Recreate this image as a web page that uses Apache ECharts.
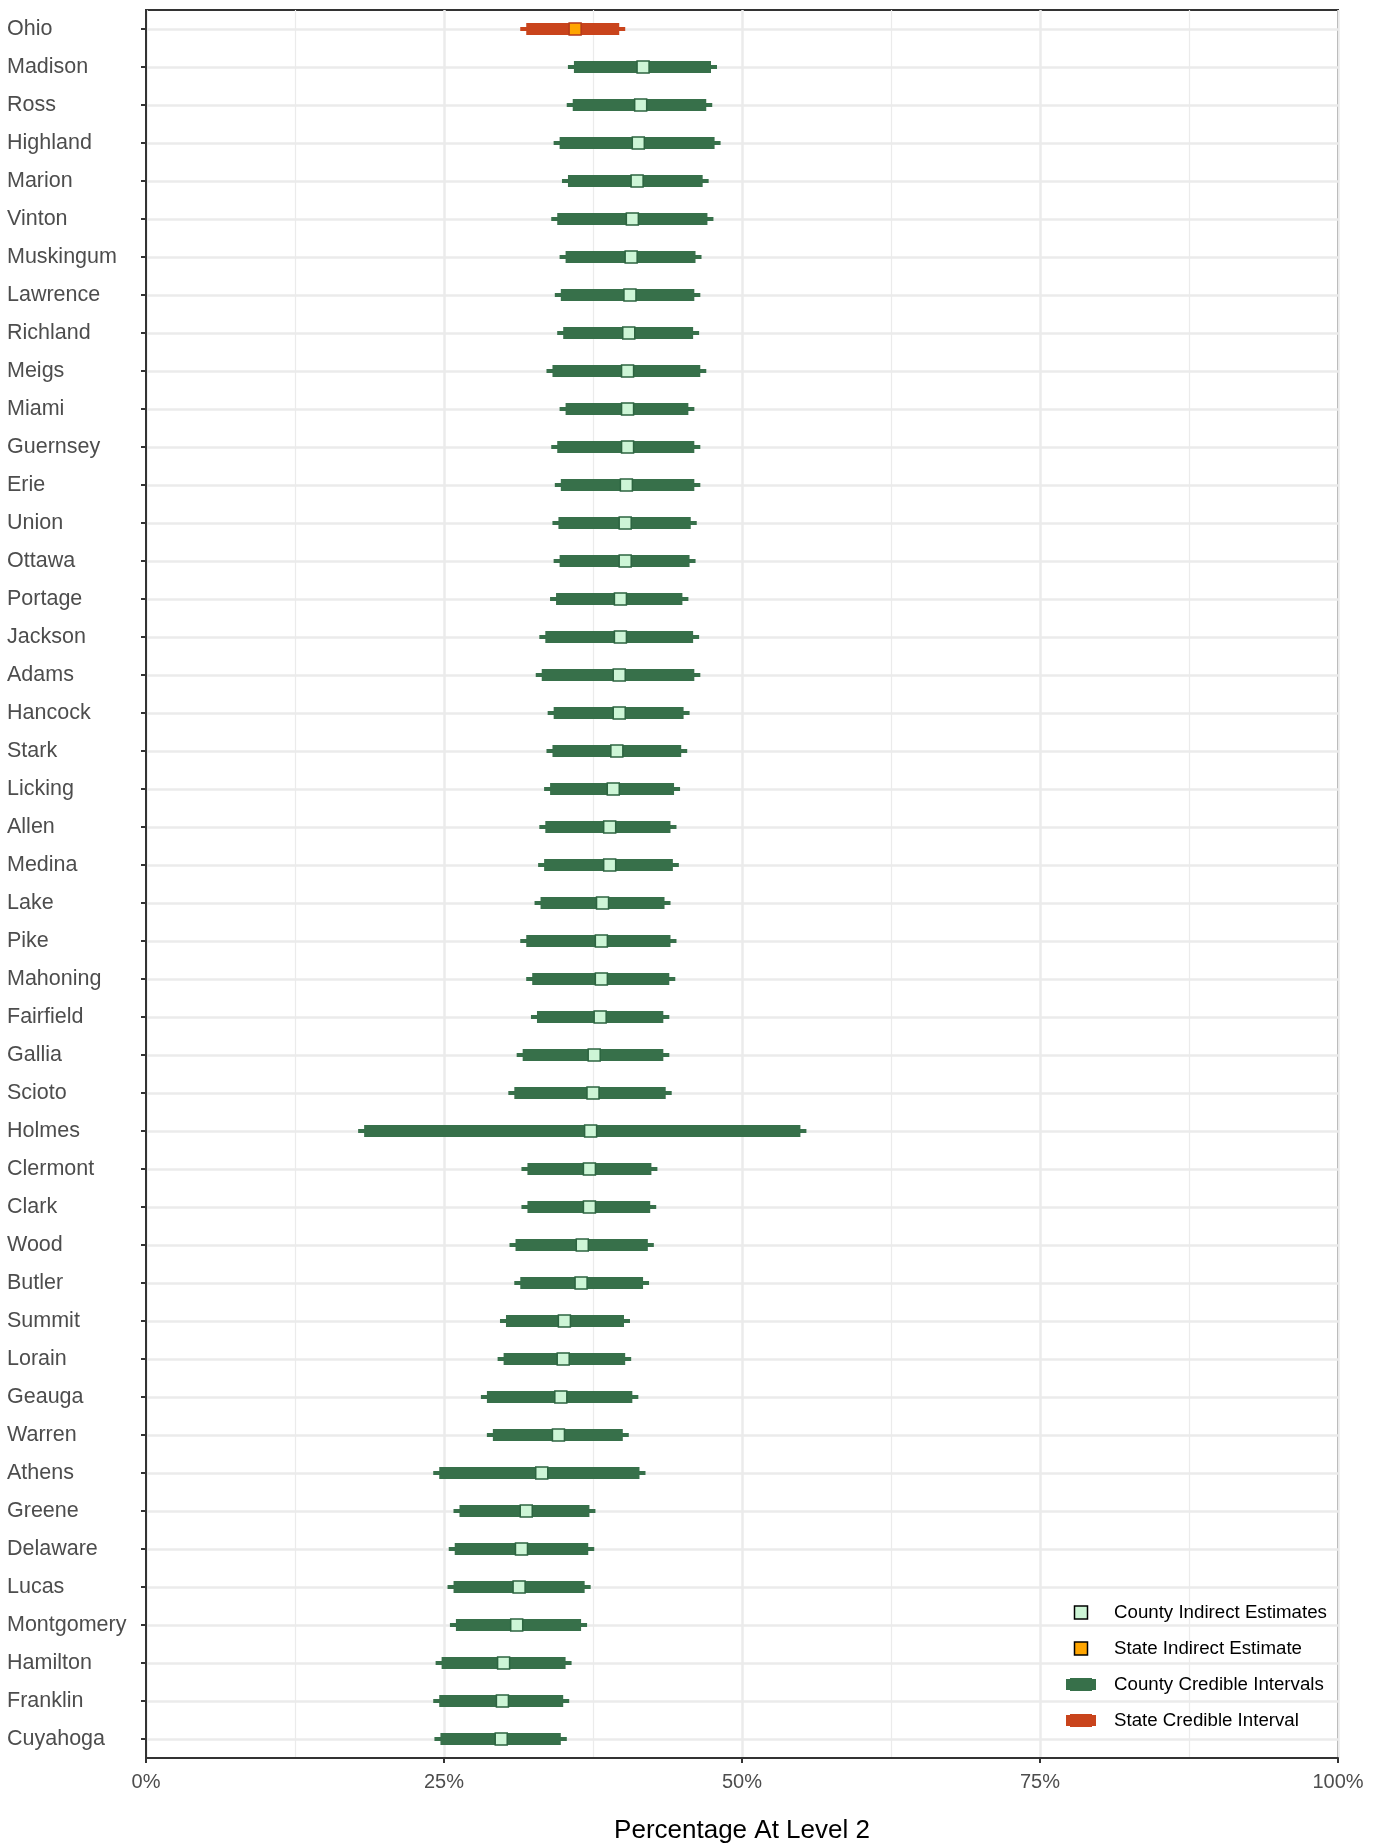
<!DOCTYPE html>
<html><head><meta charset="utf-8">
<script src="https://cdn.jsdelivr.net/npm/echarts@6/dist/echarts.min.js"></script>
<style>html,body{margin:0;padding:0;background:#fff}#c{width:1375px;height:1845px}</style>
</head><body><div id="c"></div>
<script>
const stateName = 'Ohio';
const stateEstimate = 36.0;
const stateLower = 31.9;
const stateUpper = 39.7;

const counties = ['Madison','Ross','Highland','Marion','Vinton','Muskingum','Lawrence','Richland','Meigs',
  'Miami','Guernsey','Erie','Union','Ottawa','Portage','Jackson','Adams','Hancock','Stark',
  'Licking','Allen','Medina','Lake','Pike','Mahoning','Fairfield','Gallia','Scioto','Holmes',
  'Clermont','Clark','Wood','Butler','Summit','Lorain','Geauga','Warren','Athens','Greene',
  'Delaware','Lucas','Montgomery','Hamilton','Franklin','Cuyahoga'];
const countyEstimate = [41.7,41.5,41.3,41.2,40.8,40.7,40.6,40.5,40.4,
  40.4,40.4,40.3,40.2,40.2,39.8,39.8,39.7,39.7,39.5,
  39.2,38.9,38.9,38.3,38.2,38.2,38.1,37.6,37.5,37.3,
  37.2,37.2,36.6,36.5,35.1,35.0,34.8,34.6,33.2,31.9,
  31.5,31.3,31.1,30.0,29.9,29.8];
const countyLower = [35.9,35.8,34.7,35.4,34.5,35.2,34.8,35.0,34.1,
  35.2,34.5,34.8,34.6,34.7,34.4,33.5,33.2,34.2,34.1,
  33.9,33.5,33.4,33.1,31.9,32.4,32.8,31.6,30.9,18.3,
  32.0,32.0,31.0,31.4,30.2,30.0,28.6,29.1,24.6,26.3,
  25.9,25.8,26.0,24.8,24.6,24.7];
const countyUpper = [47.4,47.0,47.7,46.7,47.1,46.1,46.0,45.9,46.5,
  45.5,46.0,46.0,45.7,45.6,45.0,45.9,46.0,45.1,44.9,
  44.3,44.0,44.2,43.5,44.0,43.9,43.4,43.4,43.6,54.9,
  42.4,42.3,42.1,41.7,40.1,40.2,40.8,40.0,41.4,37.2,
  37.1,36.8,36.5,35.2,35.0,34.8];
const xTickValues = [0, 25, 50, 75, 100];
const xTitle = 'Percentage At Level 2';
const legendNames = ['County Indirect Estimates','State Indirect Estimate','County Credible Intervals','State Credible Interval'];

const FONT = "'Liberation Sans', Arial, sans-serif";
const GREEN = '#37704a', RED = '#c9441c', MINT = '#cdf5d6', ORANGE = '#ffa500';

const categories = [stateName].concat(counties);

function intervalRenderer(color) {
  return function (params, api) {
    const a = api.coord([api.value(0), api.value(2)]);
    const b = api.coord([api.value(1), api.value(2)]);
    const y = a[1];
    return { type: 'group', children: [
      { type: 'rect', shape: { x: a[0] - 6, y: y - 2, width: b[0] - a[0] + 12, height: 4 }, style: { fill: color } },
      { type: 'rect', shape: { x: a[0], y: y - 6, width: b[0] - a[0], height: 12 }, style: { fill: color } }
    ]};
  };
}

const chart = echarts.init(document.getElementById('c'), null, { renderer: 'canvas' });
chart.setOption({
  animation: false,
  backgroundColor: '#fff',
  grid: { left: 146, right: 37, top: 10, bottom: 87, outerBoundsMode: 'none', containLabel: false,
    show: true, borderColor: '#333', borderWidth: 2, backgroundColor: 'transparent' },
  xAxis: {
    type: 'value', min: 0, max: 100, interval: 25,
    axisLine: { show: true, lineStyle: { color: '#333', width: 2 } },
    axisTick: { show: true, length: 5, lineStyle: { color: '#333', width: 2 } },
    axisLabel: { formatter: v => xTickValues.includes(v) ? v + '%' : '', color: '#4d4d4d', fontSize: 20, fontFamily: FONT, margin: 14 },
    splitLine: { show: true, lineStyle: { color: '#ebebeb', width: 2.5 } },
    minorTick: { show: false, splitNumber: 2 },
    minorSplitLine: { show: true, lineStyle: { color: '#ebebeb', width: 1.2 } },
    name: xTitle, nameLocation: 'middle', nameGap: 60,
    nameTextStyle: { fontSize: 26, color: '#000', fontFamily: FONT }
  },
  yAxis: {
    type: 'category', data: categories, inverse: true,
    axisLine: { show: true, lineStyle: { color: '#333', width: 2 } },
    axisTick: { show: true, alignWithLabel: true, length: 5, lineStyle: { color: '#333', width: 2 } },
    axisLabel: { interval: 0, align: 'left', margin: 139, fontSize: 21.5, color: '#4d4d4d', fontFamily: FONT },
    splitLine: { show: true, alignWithLabel: true, interval: 0, lineStyle: { color: '#ebebeb', width: 2.5 } }
  },
  legend: {
    orient: 'vertical', left: 1061, top: 1598, itemWidth: 30, itemHeight: 13, itemGap: 17,
    selectedMode: false,
    textStyle: { fontSize: 18.7, color: '#000', fontFamily: FONT, padding: [0, 0, 0, 13] },
    data: [
      { name: legendNames[0], icon: 'path://M0,0H12V12H0Z', itemStyle: { color: MINT, borderColor: '#000', borderWidth: 1.5 } },
      { name: legendNames[1], icon: 'path://M0,0H12V12H0Z', itemStyle: { color: ORANGE, borderColor: '#000', borderWidth: 1.5 } },
      { name: legendNames[2], icon: 'path://M0,1H4V0H26V1H30V12H26V13H4V12H0Z', itemStyle: { color: GREEN, borderWidth: 0 } },
      { name: legendNames[3], icon: 'path://M0,1H4V0H26V1H30V12H26V13H4V12H0Z', itemStyle: { color: RED, borderWidth: 0 } }
    ]
  },
  series: [
    {
      name: legendNames[2], type: 'custom', z: 2, silent: true,
      itemStyle: { color: GREEN },
      renderItem: intervalRenderer(GREEN),
      encode: { x: [0, 1], y: 2 },
      data: counties.map((c, i) => [countyLower[i], countyUpper[i], i + 1])
    },
    {
      name: legendNames[3], type: 'custom', z: 2, silent: true,
      itemStyle: { color: RED },
      renderItem: intervalRenderer(RED),
      encode: { x: [0, 1], y: 2 },
      data: [[stateLower, stateUpper, 0]]
    },
    {
      name: legendNames[0], type: 'scatter', z: 3, silent: true,
      symbol: 'rect', symbolSize: 12,
      itemStyle: { color: MINT, borderColor: '#2c6440', borderWidth: 1.5, opacity: 1 },
      data: counties.map((c, i) => [countyEstimate[i], c])
    },
    {
      name: legendNames[1], type: 'scatter', z: 3, silent: true,
      symbol: 'rect', symbolSize: 12,
      itemStyle: { color: ORANGE, borderColor: '#b5391a', borderWidth: 1.5, opacity: 1 },
      data: [[stateEstimate, stateName]]
    }
  ]
});
</script></body></html>
